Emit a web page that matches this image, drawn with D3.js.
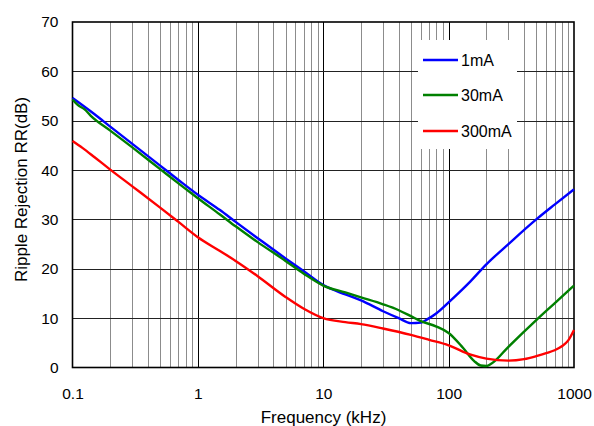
<!DOCTYPE html>
<html>
<head>
<meta charset="utf-8">
<script src="https://d3js.org/d3.v7.min.js"></script>
<style>
  body { margin: 0; background: #fff; }
  svg text { font-family: "Liberation Sans", Arial, sans-serif; fill: #000; }
</style>
</head>
<body>
<div id="chart"></div>
<script>
// frequency in kHz, rejection in dB
const freq1 = [0.1, 0.15, 0.2, 0.3, 0.5, 0.7, 1, 1.5, 2, 3, 5, 7, 10, 15, 20, 30, 40, 50, 60, 70, 80, 100, 150, 200, 300, 500, 700, 1000];
const rr1mA = [54.6, 51.3, 48.8, 45.3, 40.9, 38.0, 35.0, 31.9, 29.5, 26.2, 22.1, 19.5, 16.7, 14.8, 13.6, 11.4, 10.0, 9.0, 9.1, 10.0, 11.0, 13.2, 17.5, 20.9, 25.0, 30.0, 33.0, 36.1];

const freq30 = [0.1, 0.11, 0.125, 0.14, 0.2, 0.3, 0.5, 0.7, 1, 1.5, 2, 3, 5, 7, 10, 15, 20, 30, 40, 50, 60, 80, 100, 130, 160, 180, 200, 220, 300, 500, 700, 1000];
const rr30mA = [54.3, 53.2, 52.3, 51.0, 48.0, 44.6, 40.2, 37.3, 34.3, 31.0, 28.6, 25.4, 21.6, 19.0, 16.6, 15.2, 14.2, 12.8, 11.6, 10.4, 9.4, 8.3, 7.0, 4.0, 1.3, 0.4, 0.3, 0.8, 4.2, 9.6, 13.0, 16.6];

const freq300 = [0.1, 0.12, 0.15, 0.2, 0.3, 0.5, 0.7, 1, 1.5, 2, 3, 5, 7, 10, 15, 20, 30, 50, 70, 100, 150, 200, 300, 400, 500, 600, 700, 800, 900, 1000];
const rr300mA = [45.9, 44.5, 42.6, 40.1, 36.7, 32.4, 29.5, 26.4, 23.6, 21.6, 18.5, 14.3, 11.9, 10.0, 9.2, 8.8, 7.9, 6.6, 5.6, 4.5, 2.6, 1.8, 1.4, 1.7, 2.3, 2.9, 3.5, 4.3, 5.5, 7.6];

const seriesNames = ["1mA", "30mA", "300mA"];
const seriesColors = ["#0000ff", "#008000", "#ff0000"];
const xTicks = [0.1, 1, 10, 100, 1000];
const yTicks = [0, 10, 20, 30, 40, 50, 60, 70];

const W = 594, H = 426;
const padL = 72.5, padR = 574, padT = 22, padB = 367.5;

const svg = d3.select("#chart").append("svg")
  .attr("width", W)
  .attr("height", H);

const x = d3.scaleLog().domain([0.1, 1000]).range([padL, padR]);
const y = d3.scaleLinear().domain([0, 70]).range([padB, padT]);

// minor vertical grid
const minors = [];
for (let d = 0.1; d < 1000; d *= 10) {
  for (let k = 2; k <= 9; k++) minors.push(d * k);
}
svg.append("g").selectAll("line")
  .data(minors)
  .enter().append("line")
  .attr("x1", d => Math.round(x(d)) + 0.5)
  .attr("x2", d => Math.round(x(d)) + 0.5)
  .attr("y1", padT).attr("y2", padB)
  .attr("stroke", "#8c8c8c")
  .attr("stroke-width", 1);

// decade lines
svg.append("g").selectAll("line")
  .data(xTicks.slice(1, -1))
  .enter().append("line")
  .attr("x1", d => Math.round(x(d)) + 0.5)
  .attr("x2", d => Math.round(x(d)) + 0.5)
  .attr("y1", padT).attr("y2", padB)
  .attr("stroke", "#000")
  .attr("stroke-width", 1);

// horizontal grid
svg.append("g").selectAll("line")
  .data(yTicks.slice(1, -1))
  .enter().append("line")
  .attr("x1", padL).attr("x2", padR)
  .attr("y1", d => Math.round(y(d)) + 0.5)
  .attr("y2", d => Math.round(y(d)) + 0.5)
  .attr("stroke", "#222")
  .attr("stroke-width", 1);

// frame
svg.append("rect")
  .attr("x", padL).attr("y", padT)
  .attr("width", padR - padL).attr("height", padB - padT)
  .attr("fill", "none")
  .attr("stroke", "#000")
  .attr("stroke-width", 1.6);

// legend box covers grid
svg.append("rect")
  .attr("x", 418).attr("y", 40)
  .attr("width", 99).attr("height", 109)
  .attr("fill", "#fff");

// curves
const data = [
  freq1.map((f, i) => [f, rr1mA[i]]),
  freq30.map((f, i) => [f, rr30mA[i]]),
  freq300.map((f, i) => [f, rr300mA[i]])
];
const line = d3.line()
  .x(d => x(d[0]))
  .y(d => y(d[1]))
  .curve(d3.curveMonotoneX);

svg.append("g").selectAll("path")
  .data(data)
  .enter().append("path")
  .attr("d", line)
  .attr("fill", "none")
  .attr("stroke", (d, i) => seriesColors[i])
  .attr("stroke-width", 2.4)
  .attr("stroke-linejoin", "round");

// axes labels (axis lines hidden)
const xAxis = svg.append("g")
  .attr("transform", "translate(0," + padB + ")")
  .call(d3.axisBottom(x).tickValues(xTicks).tickFormat(d3.format("~g")).tickSize(0).tickPadding(20));
xAxis.select(".domain").remove();
xAxis.selectAll("text").style("font-size", "15.5px");
xAxis.attr("font-family", null);

const yAxis = svg.append("g")
  .attr("transform", "translate(" + padL + ",0)")
  .call(d3.axisLeft(y).tickValues(yTicks).tickSize(0).tickPadding(14));
yAxis.select(".domain").remove();
yAxis.selectAll("text").style("font-size", "15.5px");
yAxis.attr("font-family", null);

// axis titles
svg.append("text")
  .attr("x", 323.5).attr("y", 423)
  .style("text-anchor", "middle")
  .style("font-size", "17px")
  .text("Frequency (kHz)");

svg.append("text")
  .attr("transform", "translate(27,189.5) rotate(-90)")
  .style("text-anchor", "middle")
  .style("font-size", "17px")
  .text("Ripple Rejection RR(dB)");

// legend
const legendY = [60, 95, 131];
const lg = svg.append("g").selectAll("g")
  .data(seriesNames)
  .enter().append("g")
  .attr("transform", (d, i) => "translate(0," + legendY[i] + ")");
lg.append("line")
  .attr("x1", 423).attr("x2", 458)
  .attr("y1", 0).attr("y2", 0)
  .attr("stroke", (d, i) => seriesColors[i])
  .attr("stroke-width", 2.4);
lg.append("text")
  .attr("x", 461).attr("y", 0)
  .attr("dy", "0.35em")
  .style("font-size", "16px")
  .text(d => d);
</script>
</body>
</html>
